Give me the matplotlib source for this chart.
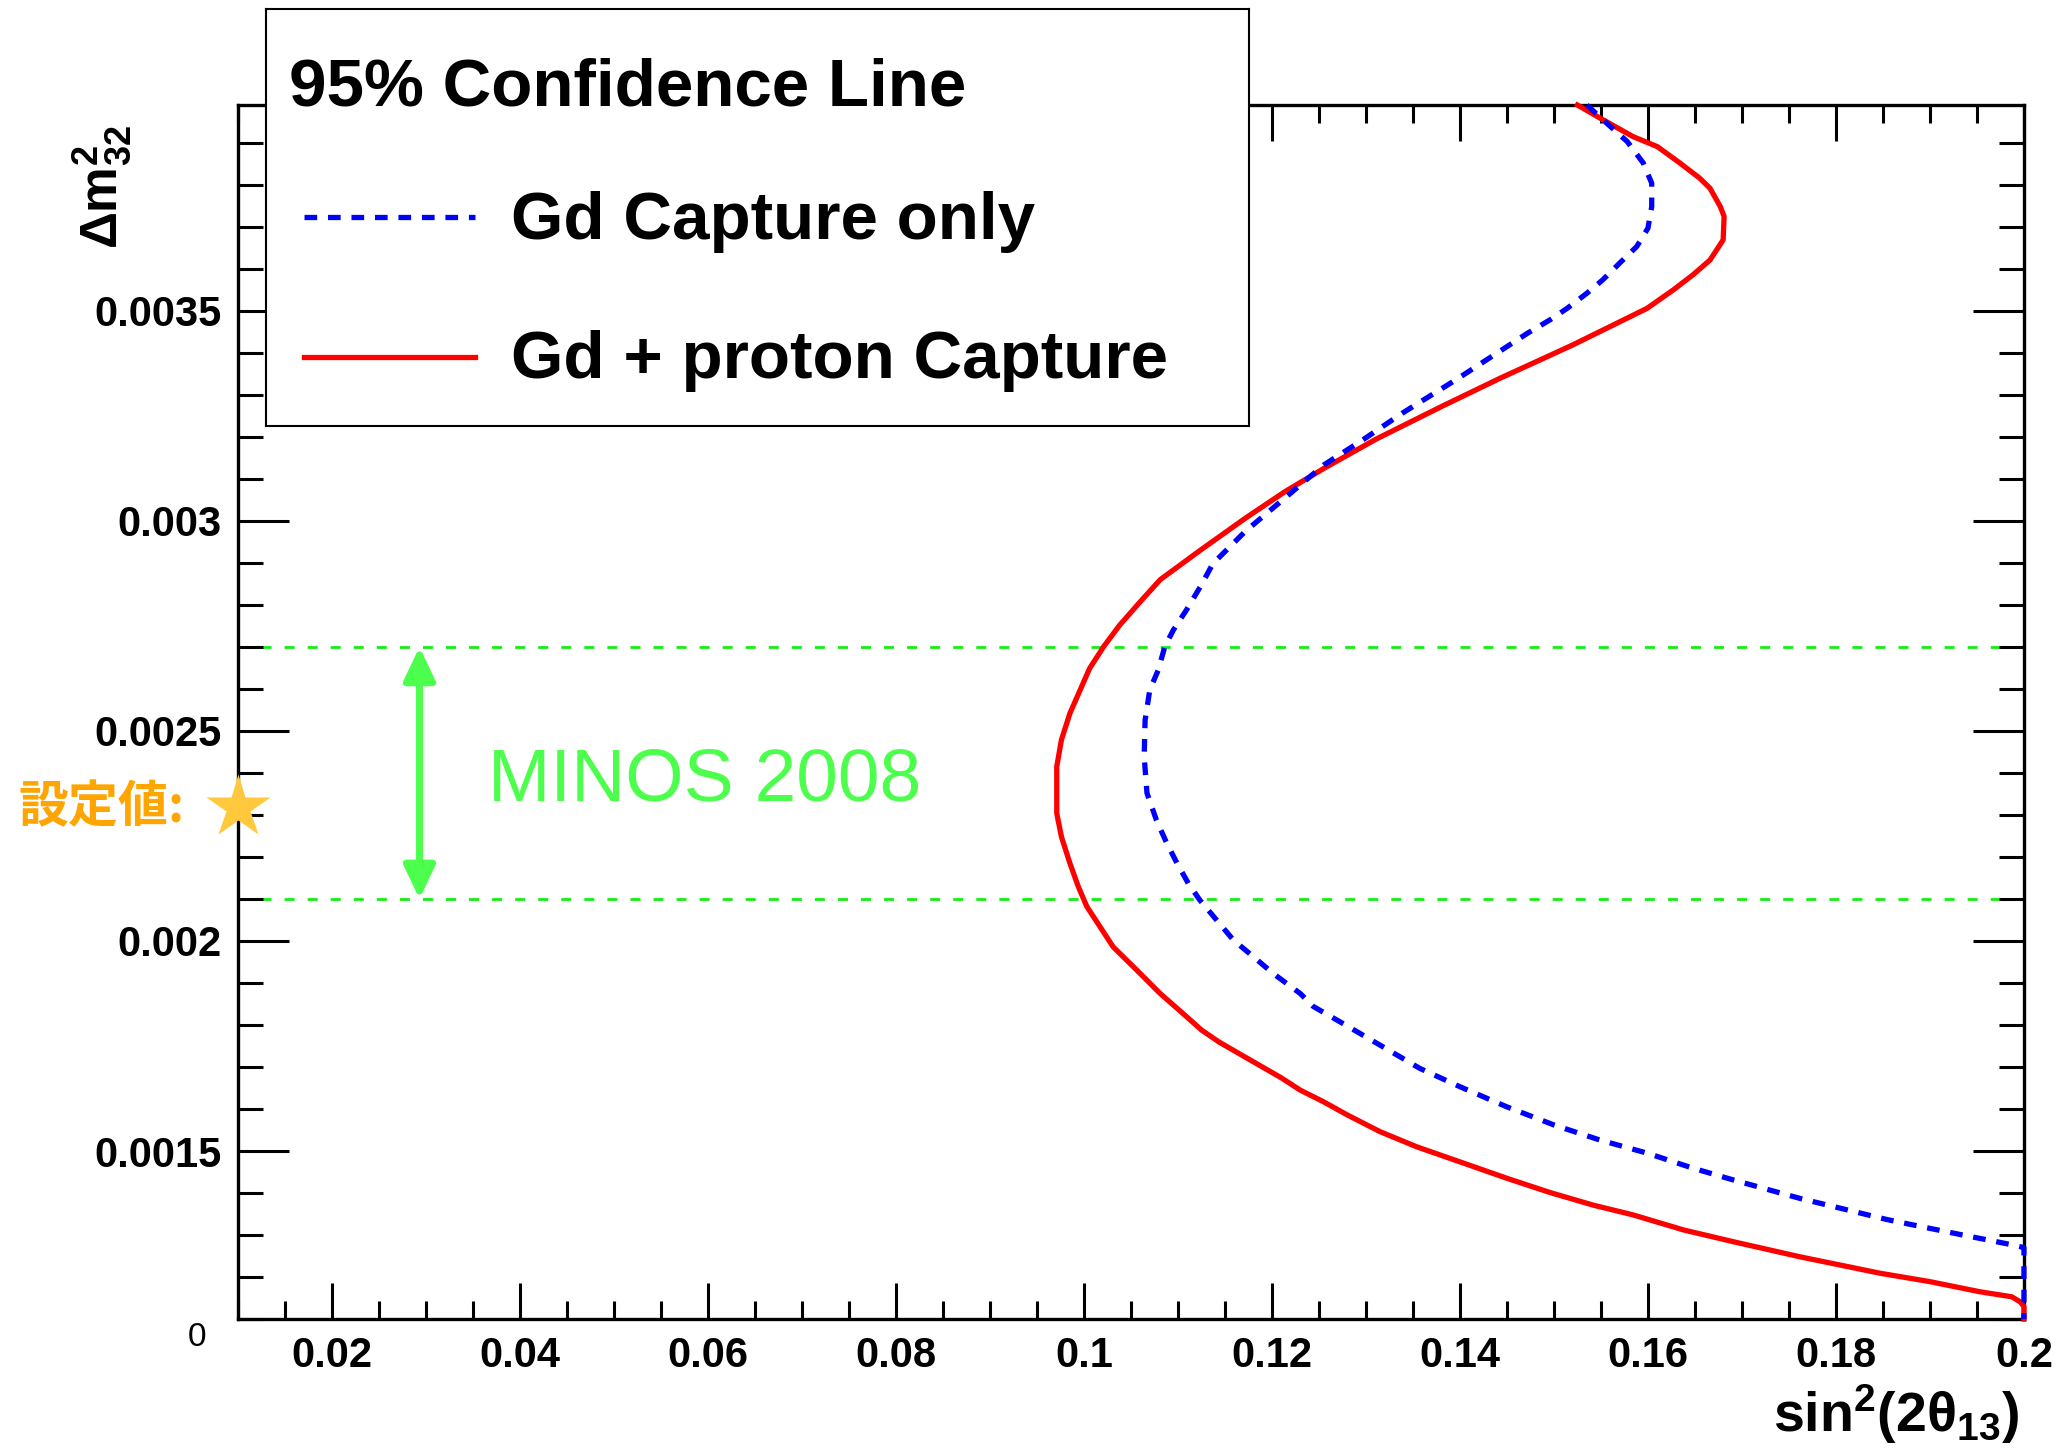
import numpy as np
import matplotlib
matplotlib.use("Agg")
import matplotlib.pyplot as plt
from matplotlib.ticker import FixedLocator, MultipleLocator

# 95% CL contours, sin^2(2theta13) vs dm^2_32
red_x = [0.1525, 0.1549, 0.1584, 0.1610, 0.1634, 0.1655, 0.1666, 0.1677, 0.1681,
         0.1680, 0.1666, 0.1648, 0.1627, 0.1599, 0.1560, 0.1520, 0.1485, 0.1443,
         0.1381, 0.1311, 0.1256, 0.1214, 0.1172, 0.1123, 0.1081, 0.1060, 0.1038,
         0.1021, 0.1006, 0.0996, 0.0985, 0.0976, 0.0971, 0.0971, 0.0976, 0.0985,
         0.0994, 0.1003, 0.1017, 0.1031, 0.1056, 0.1081, 0.1109, 0.1125, 0.1144,
         0.1210, 0.1230, 0.1255, 0.1280, 0.1315, 0.1354, 0.1404, 0.1450, 0.1496,
         0.1542, 0.1584, 0.1638, 0.1691, 0.1762, 0.1847, 0.1900, 0.1953, 0.1987,
         0.1996, 0.2000, 0.2000]
red_y = [0.003990, 0.003959, 0.003915, 0.003891, 0.003852, 0.003816, 0.003792, 0.003748,
         0.003725, 0.003669, 0.003621, 0.003586, 0.003550, 0.003506, 0.003463, 0.003419,
         0.003383, 0.003340, 0.003273, 0.003195, 0.003126, 0.003070, 0.003007, 0.002929,
         0.002860, 0.002808, 0.002752, 0.002701, 0.002649, 0.002598, 0.002542, 0.002479,
         0.002415, 0.002304, 0.002248, 0.002185, 0.002129, 0.002082, 0.002034, 0.001986,
         0.001931, 0.001875, 0.001820, 0.001788, 0.001759, 0.001674, 0.001645, 0.001617,
         0.001586, 0.001546, 0.001510, 0.001471, 0.001435, 0.001401, 0.001371, 0.001348,
         0.001312, 0.001284, 0.001248, 0.001209, 0.001189, 0.001165, 0.001153, 0.001141,
         0.001130, 0.001100]

blue_x = [0.1535, 0.1560, 0.1578, 0.1595, 0.1604, 0.1604, 0.1600, 0.1588, 0.1570,
          0.1552, 0.1535, 0.1514, 0.1496, 0.1472, 0.1450, 0.1395, 0.1339, 0.1298,
          0.1255, 0.1214, 0.1172, 0.1137, 0.1125, 0.1109, 0.1095, 0.1086, 0.1079,
          0.1070, 0.1065, 0.1064, 0.1067, 0.1077, 0.1088, 0.1099, 0.1111, 0.1123,
          0.1141, 0.1159, 0.1180, 0.1201, 0.1230, 0.1244, 0.1272, 0.1315, 0.1357,
          0.1400, 0.1450, 0.1500, 0.1549, 0.1599, 0.1648, 0.1691, 0.1762, 0.1854,
          0.1882, 0.1935, 0.1989, 0.2000, 0.2000]
blue_y = [0.003990, 0.003939, 0.003903, 0.003852, 0.003804, 0.003748, 0.003697, 0.003653,
          0.003614, 0.003574, 0.003542, 0.003506, 0.003479, 0.003447, 0.003415, 0.003335,
          0.003257, 0.003195, 0.003133, 0.003055, 0.002976, 0.002898, 0.002848, 0.002788,
          0.002740, 0.002701, 0.002645, 0.002598, 0.002526, 0.002439, 0.002352, 0.002288,
          0.002233, 0.002185, 0.002137, 0.002098, 0.002050, 0.002002, 0.001963, 0.001923,
          0.001875, 0.001844, 0.001808, 0.001752, 0.001697, 0.001653, 0.001605, 0.001562,
          0.001526, 0.001495, 0.001459, 0.001431, 0.001387, 0.001337, 0.001324, 0.001300,
          0.001276, 0.001270, 0.001100]

minos_low = 0.0021
minos_high = 0.0027
minos_x = 0.0293
true_dm2 = 0.00232

legend_title = "95% Confidence Line"
legend_labels = ["Gd Capture only", "Gd + proton Capture"]

x_ticks = [0.02, 0.04, 0.06, 0.08, 0.10, 0.12, 0.14, 0.16, 0.18, 0.20]
x_ticklabels = ["0.02", "0.04", "0.06", "0.08", "0.1", "0.12", "0.14", "0.16", "0.18", "0.2"]
y_ticks = [0.0015, 0.0020, 0.0025, 0.0030, 0.0035]
y_ticklabels = ["0.0015", "0.002", "0.0025", "0.003", "0.0035"]

plt.rcParams["font.family"] = ["Liberation Sans", "DejaVu Sans"]
plt.rcParams["font.weight"] = "bold"
plt.rcParams["mathtext.fontset"] = "custom"
plt.rcParams["mathtext.rm"] = "Liberation Sans:bold"
plt.rcParams["mathtext.bf"] = "Liberation Sans:bold"
plt.rcParams["mathtext.it"] = "Liberation Sans:bold"

green_line = "#14ee14"
green_light = "#4dff4d"
dash_blue = (0, (2.4, 2.05))
curve_lw = 3.8

fig = plt.figure(figsize=(20.56, 14.53), dpi=100)
ax = fig.add_axes([0.1158, 0.0922, 0.8686, 0.8355])
ax.set_xlim(0.01, 0.2)
ax.set_ylim(0.0011, 0.00399)

for s in ax.spines.values():
    s.set_linewidth(2.4)

ax.xaxis.set_major_locator(FixedLocator(x_ticks))
ax.set_xticklabels(x_ticklabels)
ax.xaxis.set_minor_locator(MultipleLocator(0.005))
ax.yaxis.set_major_locator(FixedLocator(y_ticks))
ax.set_yticklabels(y_ticklabels)
ax.yaxis.set_minor_locator(MultipleLocator(0.0001))

ax.tick_params(axis="x", which="both", direction="in", top=True, bottom=True,
               width=2.2, labelsize=30, pad=12)
ax.tick_params(axis="x", which="major", length=26)
ax.tick_params(axis="x", which="minor", length=13)
ax.tick_params(axis="y", which="both", direction="in", left=True, right=True,
               width=2.2, labelsize=30, pad=12)
ax.tick_params(axis="y", which="major", length=37)
ax.tick_params(axis="y", which="minor", length=18)

# MINOS 2008 allowed band
for yv in (minos_low, minos_high):
    ax.axhline(yv, color=green_line, lw=2.0, ls=(0, (3.6, 4.7)), zorder=1.5)
ax.annotate("", xy=(minos_x, minos_high), xytext=(minos_x, minos_low),
            arrowprops=dict(arrowstyle="<|-|>,head_length=20,head_width=9.5",
                            mutation_scale=1, lw=5, color=green_light,
                            shrinkA=0, shrinkB=0))
ax.text(0.0366, 0.002334, "MINOS 2008", color=green_light, fontsize=54,
        fontweight="normal", va="baseline", ha="left")

ax.plot(red_x, red_y, color="#ff0000", lw=curve_lw, clip_on=False, zorder=3)
ax.plot(blue_x, blue_y, color="#0000ff", lw=curve_lw, ls=dash_blue,
        dash_capstyle="butt", clip_on=False, zorder=3.1)

# input value marker on the y axis
ax.plot([0.01], [true_dm2], marker="*", ms=48, color="#ffc83d", mec="none",
        clip_on=False, zorder=5)
fig.text(0.0092, 0.4439, "設定値:", color="#ffa500", fontsize=36,
         family=["Noto Sans CJK JP", "DejaVu Sans"], fontweight="bold",
         ha="left", va="center")

fig.text(0.0958, 0.0798, "0", fontsize=24, fontweight="normal",
         ha="center", va="center")
fig.text(0.982, 0.0145, r"$\mathbf{sin^{2}(2\theta_{13})}$", fontsize=40,
         ha="right", va="baseline")
fig.text(0.0497, 0.914, r"$\mathbf{\Delta m^{2}_{32}}$", fontsize=37,
         rotation=90, ha="center", va="top")

# legend box
lax = fig.add_axes([0.1294, 0.7068, 0.4783, 0.2873])
lax.set_xlim(0, 1)
lax.set_ylim(0, 1)
lax.set_xticks([])
lax.set_yticks([])
lax.set_facecolor("white")
for s in lax.spines.values():
    s.set_linewidth(1.5)
lax.text(0.0229, 0.769, legend_title, fontsize=48.5, fontweight="bold", va="baseline")
lax.plot([0.0386, 0.212], [0.5, 0.5], color="#0000ff", lw=curve_lw, ls=dash_blue,
         dash_capstyle="butt")
lax.text(0.249, 0.449, legend_labels[0], fontsize=48.5, fontweight="bold", va="baseline")
lax.plot([0.0386, 0.212], [0.166, 0.166], color="#ff0000", lw=curve_lw)
lax.text(0.249, 0.116, legend_labels[1], fontsize=48.5, fontweight="bold", va="baseline")

fig.savefig("out.png", dpi=100)
